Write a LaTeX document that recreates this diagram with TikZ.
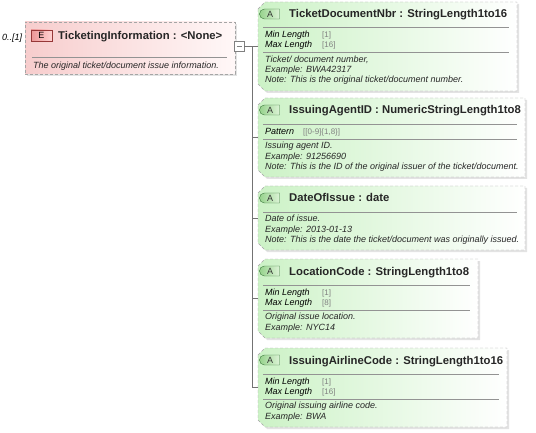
\documentclass[tikz,border=0pt]{standalone}
\usepackage{fontspec}
\setmainfont{Liberation Sans}
\usepackage{tikz}
\usetikzlibrary{shapes,shapes.misc,shadows}
\usetikzlibrary{positioning}
\definecolor{attrfill}{RGB}{204,242,198}
\definecolor{elemfill}{RGB}{247,205,205}
\definecolor{abadgefill}{RGB}{150,210,140}
\definecolor{abadgeright}{RGB}{220,243,214}
\definecolor{abadgedraw}{RGB}{60,120,60}
\definecolor{ebadgefill}{RGB}{236,150,150}
\definecolor{ebadgedraw}{RGB}{150,55,55}
\definecolor{framegray}{RGB}{165,165,165}
\tikzstyle{attr} = [rectangle, inner sep=0pt, outer sep=0pt, anchor=west]
\tikzstyle{attrframe} = [draw=framegray, dash pattern=on 3pt off 2pt,
    left color=attrfill, right color=white,
    drop shadow={shadow xshift=2pt, shadow yshift=-2pt, fill=black!22}]
\tikzstyle{elem} = [rectangle, draw=framegray, dash pattern=on 3pt off 2pt,
    left color=elemfill, right color=red!3, inner sep=0pt, outer sep=0pt, anchor=west,
    drop shadow={shadow xshift=2pt, shadow yshift=-2pt, fill=black!22}]
\tikzstyle{abadge} = [rounded rectangle, rounded rectangle right arc=none, draw=abadgedraw,
    left color=abadgefill, right color=abadgeright, minimum width=20pt, minimum height=10pt,
    inner sep=0pt, font=\fontsize{9}{10}\selectfont, text=black!80]
\tikzstyle{ebadge} = [rectangle, draw=ebadgedraw, left color=ebadgefill, right color=red!18,
    minimum width=21pt, minimum height=11pt, inner sep=0pt, font=\fontsize{9}{10}\selectfont]
\tikzstyle{title} = [font=\fontsize{11.3}{13}\selectfont\bfseries, text=black!85,
    inner sep=0pt, anchor=base west]
\tikzstyle{facet} = [font=\fontsize{9}{10.3}\selectfont\itshape, inner sep=0pt, anchor=base west]
\tikzstyle{fvalue} = [font=\fontsize{8}{10}\selectfont, text=gray, inner sep=0pt, anchor=base west]
\tikzstyle{desc} = [font=\fontsize{9}{10.3}\selectfont\itshape, text=black!85, align=left,
    inner sep=0pt, anchor=north west, execute at begin node=\strut]
\tikzstyle{toggle} = [rectangle, draw=gray, fill=white, minimum size=10pt, inner sep=0pt,
    path picture={\draw[gray] ([xshift=2.5pt]path picture bounding box.west)
    -- ([xshift=-2.5pt]path picture bounding box.east);}]
\tikzstyle{sepline} = [draw=gray!85, line width=0.6pt]
\tikzstyle{line} = [draw=gray!90!black, line width=0.6pt]
% chamfered frame round an attribute node
\newcommand{\chamferbox}[1]{%
  \path[attrframe] ([yshift=-7pt]#1.north west) -- ([xshift=7pt]#1.north west)
    -- (#1.north east) -- (#1.south east) -- ([xshift=7pt]#1.south west)
    -- ([yshift=7pt]#1.south west) -- cycle;}

\begin{document}
\begin{tikzpicture}[x=1pt,y=-1pt]
    \useasboundingbox (0,0) rectangle (536,433);
    % Place nodes
    \node[facet] (ticketmult) at (2,41) {0..[1]};
    \node[elem, minimum width=210pt, minimum height=52pt] (ticketing) at (25,48) {};
    \node[ebadge] (ticketingE) at (41.5,35.5) {E};
    \node[title] (ticketingname) at (58,39.5) {TicketingInformation : <None>};
    \draw[sepline] (32,57) -- (227,57);
    \node[desc] (ticketingdesc) at (33,61) {The original ticket/document issue information.};
    \node[toggle] (toggle) at (239,46.5) {};
    \coordinate (trunk) at (252,46.5);

    \node[attr, minimum width=259pt, minimum height=89pt] (ticketnbr) at (258,46.5) {};
    \chamferbox{ticketnbr}
    \node[abadge] (ticketnbrA) at (270,14) {A};
    \node[title] (ticketnbrname) at (289,18) {TicketDocumentNbr : StringLength1to16};
    \draw[sepline] (263,27) -- (509,27);
    \node[facet] (ticketnbrmin) at (265,37.2) {Min Length};
    \node[fvalue] (ticketnbrminv) at (322,37.2) {[1]};
    \node[facet] (ticketnbrmax) at (265,47.2) {Max Length};
    \node[fvalue] (ticketnbrmaxv) at (322,47.2) {[16]};
    \draw[sepline] (263,52.5) -- (509,52.5);
    \node[desc] (ticketnbrdesc) at (265,55.5) {Ticket/ document number,\\Example: BWA42317\\Note: This is the original ticket/document number.};

    \node[attr, minimum width=267pt, minimum height=79pt] (agentid) at (258,137.5) {};
    \chamferbox{agentid}
    \node[abadge] (agentidA) at (270,110) {A};
    \node[title] (agentidname) at (289,114) {IssuingAgentID : NumericStringLength1to8};
    \draw[sepline] (263,124) -- (517,124);
    \node[facet] (agentidpat) at (265,134.2) {Pattern};
    \node[fvalue] (agentidpatv) at (303,134.2) {[[0-9]\{1,8\}]};
    \draw[sepline] (263,139) -- (517,139);
    \node[desc] (agentiddesc) at (265,142) {Issuing agent ID.\\Example: 91256690\\Note: This is the ID of the original issuer of the ticket/document.};

    \node[attr, minimum width=267pt, minimum height=64pt] (issuedate) at (258,218) {};
    \chamferbox{issuedate}
    \node[abadge] (issuedateA) at (270,198) {A};
    \node[title] (issuedatename) at (289,202) {DateOfIssue : date};
    \draw[sepline] (263,212) -- (517,212);
    \node[desc] (issuedatedesc) at (265,215) {Date of issue.\\Example: 2013-01-13\\Note: This is the date the ticket/document was originally issued.};

    \node[attr, minimum width=220pt, minimum height=79pt] (location) at (258,298.5) {};
    \chamferbox{location}
    \node[abadge] (locationA) at (270,271) {A};
    \node[title] (locationname) at (289,275) {LocationCode : StringLength1to8};
    \draw[sepline] (263,285) -- (470,285);
    \node[facet] (locationmin) at (265,295.2) {Min Length};
    \node[fvalue] (locationminv) at (322,295.2) {[1]};
    \node[facet] (locationmax) at (265,305.2) {Max Length};
    \node[fvalue] (locationmaxv) at (322,305.2) {[8]};
    \draw[sepline] (263,310) -- (470,310);
    \node[desc] (locationdesc) at (265,313) {Original issue location.\\Example: NYC14};

    \node[attr, minimum width=249pt, minimum height=79pt] (airline) at (258,387.5) {};
    \chamferbox{airline}
    \node[abadge] (airlineA) at (270,360) {A};
    \node[title] (airlinename) at (289,364) {IssuingAirlineCode : StringLength1to16};
    \draw[sepline] (263,374) -- (499,374);
    \node[facet] (airlinemin) at (265,384.2) {Min Length};
    \node[fvalue] (airlineminv) at (322,384.2) {[1]};
    \node[facet] (airlinemax) at (265,394.2) {Max Length};
    \node[fvalue] (airlinemaxv) at (322,394.2) {[16]};
    \draw[sepline] (263,399) -- (499,399);
    \node[desc] (airlinedesc) at (265,402) {Original issuing airline code.\\Example: BWA};
    % Draw edges
    \path [line] (toggle.east) -- (ticketnbr.west);
    \path [line] (trunk) -- (trunk |- airline.west);
    \path [line] (trunk |- agentid.west) -- (agentid.west);
    \path [line] (trunk |- issuedate.west) -- (issuedate.west);
    \path [line] (trunk |- location.west) -- (location.west);
    \path [line] (trunk |- airline.west) -- (airline.west);
\end{tikzpicture}
\end{document}
